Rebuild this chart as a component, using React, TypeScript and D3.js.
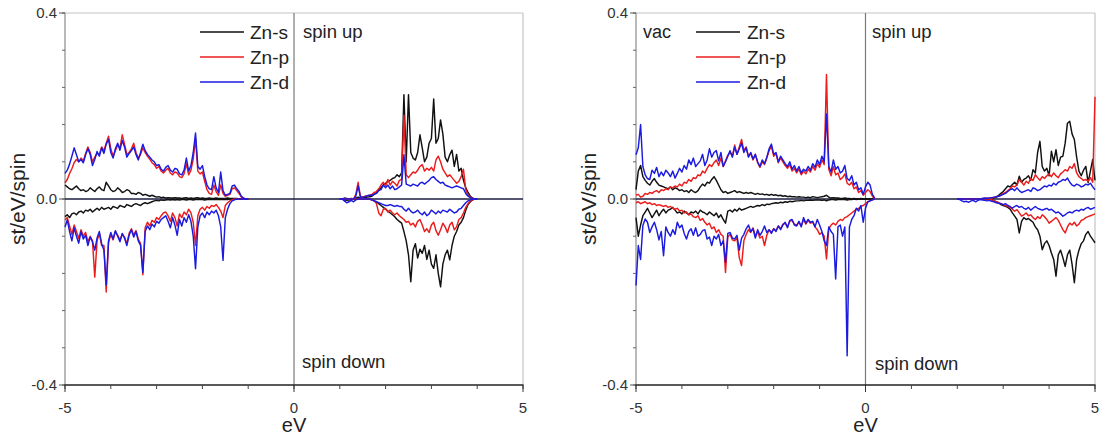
import React from "react";
import * as d3 from "d3";

// Energy grids: each array starts at its start energy (eV) and is sampled every E_STEP eV.
// Values are in 10^-3 states/eV/spin (divided by 1000 when plotted).
const E_STEP = 0.05;

const seriesNames = ["Zn-s", "Zn-p", "Zn-d"];
const seriesColors = ["#111111", "#ec1c1c", "#1a1ae0"];

const xMajorTicks = [-5, 0, 5];
const xTickLabels = ["-5", "0", "5"];
const yMajorTicks = [-0.4, 0, 0.4];
const yTickLabels = ["-0.4", "0.0", "0.4"];

// ---------------- Left panel ----------------
const leftVbStart = -5.0;
const leftCbStart = 1.0;

const leftVbUpS = [30,26,22,20,24,28,22,18,20,16, 18,24,20,16,22,26,20,18,36,28, 20,16,18,24,20,14,16,20,18,12, 12,10,14,12,8,10,8,6,8,6, 4,5,3,4,2,3,2,2,3,2, 2,1,2,3,1,2,1,2,3,1, 2,1,1,2,1,1,2,1,1,1, 1,2,1,1,1,1,0,0,0,0, 0];
const leftVbUpP = [35,42,55,65,78,85,80,88,82,98, 112,100,80,90,98,96,112,104,120,135, 108,92,104,116,110,138,118,96,100,108, 120,100,88,96,110,100,92,86,78,74, 66,70,60,56,62,66,56,52,58,56, 48,46,54,76,52,62,86,130,60,54, 58,38,20,12,10,30,16,8,30,12, 6,8,10,22,24,18,12,4,2,0, 0];
const leftVbUpD = [55,62,75,92,110,95,80,85,78,95, 108,96,72,85,102,92,110,98,118,128, 100,88,108,120,105,126,112,90,98,104, 112,96,84,100,118,104,96,90,84,80, 72,74,64,60,68,72,62,58,66,64, 54,52,62,88,60,72,100,142,70,64, 72,48,30,22,20,48,24,14,58,18, 8,10,12,28,30,22,16,6,2,0, 0];
const leftVbDnS = [-38,-34,-40,-32,-30,-34,-28,-26,-30,-24, -26,-22,-28,-24,-20,-24,-18,-22,-20,-18, -22,-16,-18,-20,-14,-16,-18,-12,-14,-16, -12,-10,-12,-14,-10,-8,-10,-8,-6,-4, -3,-4,-2,-3,-2,-1,-2,-1,-2,-1, -2,-1,-1,-2,-1,-1,-2,-1,-1,-1, -1,-2,-1,-1,-1,-1,-1,-1,-1,-1, -1,-1,0,0,0,0,0,0,0,0, 0];
const leftVbDnP = [-45,-40,-58,-76,-56,-70,-85,-66,-80,-72, -92,-80,-90,-168,-90,-74,-100,-100,-200,-94, -76,-88,-70,-78,-88,-76,-82,-96,-74,-64, -78,-68,-86,-96,-163,-62,-50,-58,-46,-50, -40,-44,-36,-30,-28,-36,-48,-30,-40,-58, -32,-40,-28,-34,-22,-30,-50,-100,-36,-22, -18,-24,-16,-20,-14,-16,-12,-18,-26,-40, -14,-8,-4,-2,0,0,0,0,0,0, 0];
const leftVbDnD = [-60,-45,-70,-90,-62,-80,-95,-70,-86,-78, -100,-82,-92,-110,-84,-70,-96,-110,-185,-90, -72,-86,-68,-80,-92,-74,-84,-100,-78,-66, -82,-70,-90,-100,-158,-70,-58,-66,-54,-60, -48,-52,-44,-40,-36,-48,-62,-40,-56,-78, -44,-58,-40,-50,-34,-48,-80,-150,-60,-36, -30,-40,-28,-34,-26,-30,-24,-36,-60,-132, -40,-22,-10,-4,-2,0,0,0,0,0, 0];

const leftCbUpS = [0,0,2,1,0,1,0,2,4,2, 2,3,4,5,6,10,14,20,24,30, 34,38,40,44,46,52,48,56,224,80, 224,100,88,84,100,138,110,80,90,120, 130,215,120,130,170,140,90,80,95,105, 70,96,60,66,40,24,14,6,2,0, 0];
const leftCbUpP = [0,0,0,0,0,0,0,10,36,6, 4,6,7,8,10,14,16,22,30,36, 28,42,30,38,34,28,40,42,180,52, 46,52,58,56,62,70,74,60,66,62, 68,60,84,92,80,64,56,48,52,46, 40,34,38,48,64,20,8,4,2,0, 0];
const leftCbUpD = [0,0,0,0,0,0,0,6,28,4, 4,5,7,8,8,10,12,18,20,30, 24,30,22,28,20,22,26,30,95,32, 30,28,32,30,28,34,36,32,36,40, 46,48,42,38,34,36,30,28,26,24, 26,28,26,24,22,12,6,3,1,0, 0];
const leftCbDnS = [0,0,-2,-3,-2,-1,0,0,0,0, 0,0,0,0,-2,-4,-6,-10,-14,-18, -22,-26,-30,-34,-38,-44,-48,-52,-70,-90, -120,-178,-110,-96,-127,-108,-117,-100,-130,-110, -140,-149,-120,-160,-189,-140,-120,-110,-131,-100, -80,-70,-56,-50,-40,-24,-12,-6,-2,0, 0];
const leftCbDnP = [0,0,0,-1,0,0,0,0,0,0, 0,0,0,0,-2,-4,-10,-30,-36,-22, -20,-28,-24,-30,-34,-30,-36,-40,-44,-50, -48,-56,-52,-60,-48,-44,-56,-70,-64,-72, -56,-50,-68,-78,-66,-52,-60,-72,-56,-50, -66,-60,-44,-40,-30,-18,-10,-4,-2,0, 0];
const leftCbDnD = [0,0,-4,-8,-6,-3,-6,-2,0,0, 0,0,0,0,-2,-4,-6,-8,-10,-12, -14,-14,-12,-14,-16,-14,-16,-16,-22,-26, -20,-26,-30,-28,-24,-30,-34,-28,-36,-32, -24,-28,-32,-26,-30,-24,-26,-28,-22,-26, -30,-28,-22,-20,-14,-8,-4,-2,0,0, 0];

// ---------------- Right panel (vac) ----------------
const rightVbStart = -5.0;
const rightCbStart = 2.0;

const rightVbUpS = [20,60,72,48,40,34,30,38,44,36, 30,28,26,24,22,26,20,24,22,18, 20,16,18,14,20,16,14,18,26,32, 28,36,34,42,48,40,30,20,14,16, 12,14,16,18,14,16,14,12,14,12, 14,12,10,12,10,11,9,10,8,10, 8,9,7,8,6,7,5,6,5,5, 4,5,4,4,3,4,3,5,4,3, 4,5,6,8,4,2,3,2,2,1, 1,2,1,1,0,1,0,0,1,0, 0,0,0,0,0];
const rightVbUpP = [8,10,4,6,12,10,14,12,16,18, 14,20,18,22,20,26,24,28,26,32, 28,36,34,42,38,46,44,52,50,60, 56,66,74,70,78,84,72,88,70,82, 94,100,92,116,96,112,128,104,112,92, 98,84,96,78,68,80,74,88,104,114, 92,98,78,88,80,72,66,74,60,66, 56,64,52,60,54,64,58,70,62,76, 68,84,74,268,64,50,70,52,56,42, 46,54,34,30,36,22,26,14,18,8, 14,20,16,6,0];
const rightVbUpD = [95,110,160,70,52,44,42,62,55,68, 48,58,50,62,56,48,60,45,55,66, 58,72,64,84,74,88,70,76,82,96, 72,84,108,90,100,104,82,100,70,80, 92,104,90,112,96,108,120,100,110,90, 100,86,96,80,70,84,76,90,108,118, 96,100,80,92,84,76,70,80,64,72, 60,70,56,64,60,70,62,76,68,84, 74,92,80,183,70,58,84,64,70,56, 60,72,44,40,50,30,36,20,24,10, 26,36,30,10,2];
const rightVbDnS = [-40,-80,-56,-36,-28,-20,-30,-40,-32,-24, -36,-28,-22,-30,-24,-22,-18,-24,-30,-28, -32,-26,-30,-34,-28,-30,-26,-32,-24,-28, -30,-34,-28,-32,-36,-30,-40,-34,-44,-52, -26,-24,-28,-22,-26,-20,-24,-22,-20,-18, -16,-18,-16,-14,-15,-12,-14,-11,-12,-10, -9,-8,-9,-7,-8,-6,-7,-5,-6,-5, -4,-4,-3,-4,-3,-3,-2,-3,-2,-2, -2,-3,-2,-4,-2,-1,-1,-2,-1,-1, -1,-1,-2,-1,-1,0,-1,0,0,0, 0,0,0,0,0];
const rightVbDnP = [-8,-6,-10,-8,-6,-10,-8,-12,-10,-14, -12,-14,-16,-14,-18,-16,-20,-22,-20,-26, -24,-30,-28,-34,-32,-38,-40,-36,-46,-42, -50,-56,-52,-64,-60,-72,-66,-76,-80,-158, -82,-76,-88,-90,-84,-126,-143,-90,-76,-66, -72,-62,-80,-70,-84,-80,-100,-78,-66,-72, -64,-68,-58,-64,-54,-52,-60,-48,-46,-54, -56,-50,-58,-44,-54,-46,-52,-50,-60,-66, -76,-72,-80,-129,-64,-56,-52,-56,-48,-44, -46,-40,-38,-34,-30,-26,-22,-20,-16,-14, -10,-6,-4,-2,0];
const rightVbDnD = [-186,-100,-130,-57,-43,-50,-72,-60,-50,-66, -88,-70,-122,-60,-72,-80,-66,-76,-50,-62, -56,-74,-86,-70,-64,-78,-62,-80,-76,-68, -66,-86,-82,-100,-80,-86,-76,-100,-90,-136, -74,-72,-84,-86,-78,-110,-84,-76,-64,-56, -70,-64,-84,-66,-78,-70,-58,-72,-66,-74, -64,-70,-58,-66,-56,-50,-62,-46,-44,-56, -58,-48,-60,-40,-52,-44,-50,-48,-60,-44, -56,-70,-90,-100,-60,-70,-76,-172,-60,-56, -80,-60,-337,-60,-44,-36,-20,-26,-14,-50, -20,-6,-4,-2,0];

const rightCbUpS = [0,0,0,0,0,0,0,0,0,0, 0,0,0,0,0,0,2,4,8,12, 16,22,28,26,31,36,30,49,36,42, 45,50,40,63,56,100,124,70,60,66, 50,103,80,106,72,90,92,120,163,167, 140,128,90,60,50,62,70,35,60,85, 40];
const rightCbUpP = [0,0,0,0,0,0,0,0,0,0, 0,1,1,2,1,2,3,5,6,8, 12,14,18,22,28,26,30,42,36,30, 38,34,44,40,52,46,40,48,44,50, 54,48,56,50,46,54,58,63,60,70, 66,76,56,48,44,40,42,38,46,36, 220];
const rightCbUpD = [0,0,0,0,0,0,0,0,0,0, 0,1,2,1,2,3,4,5,6,8, 10,12,16,20,22,18,24,18,14,16, 18,20,16,24,22,18,20,24,28,26, 30,28,34,30,36,38,42,40,45,36, 30,28,32,30,26,28,32,30,34,26, 20];
const rightCbDnS = [0,0,0,0,0,0,0,0,0,0, 0,0,0,0,0,-2,-4,-6,-8,-12, -14,-16,-18,-22,-30,-37,-44,-73,-48,-40, -44,-42,-46,-50,-60,-66,-80,-109,-96,-90, -100,-116,-130,-166,-120,-110,-126,-145,-120,-110, -140,-180,-130,-110,-96,-90,-76,-70,-80,-87, -94];
const rightCbDnP = [0,0,0,0,0,0,0,0,0,0, 0,0,0,0,0,-2,-4,-6,-8,-10, -12,-14,-16,-18,-22,-26,-23,-30,-37,-34, -30,-36,-34,-40,-44,-38,-42,-34,-38,-44, -52,-48,-44,-40,-46,-56,-66,-73,-60,-52, -56,-50,-58,-54,-46,-44,-40,-38,-36,-34, -32];
const rightCbDnD = [0,-1,-4,-6,-5,-7,-4,-3,-6,-3, -1,-2,-3,-4,-3,-5,-6,-8,-9,-10, -12,-10,-14,-16,-20,-16,-14,-18,-16,-20, -22,-18,-24,-20,-16,-20,-22,-24,-22,-20, -24,-22,-26,-30,-28,-32,-37,-34,-30,-28, -30,-26,-24,-26,-22,-24,-20,-18,-22,-20, -18];

type Seg = { start: number; values: number[] };

const leftSeries: Seg[][] = [
  [ { start: leftVbStart, values: leftVbUpS }, { start: leftVbStart, values: leftVbDnS }, { start: leftCbStart, values: leftCbUpS }, { start: leftCbStart, values: leftCbDnS } ],
  [ { start: leftVbStart, values: leftVbUpP }, { start: leftVbStart, values: leftVbDnP }, { start: leftCbStart, values: leftCbUpP }, { start: leftCbStart, values: leftCbDnP } ],
  [ { start: leftVbStart, values: leftVbUpD }, { start: leftVbStart, values: leftVbDnD }, { start: leftCbStart, values: leftCbUpD }, { start: leftCbStart, values: leftCbDnD } ],
];
const rightSeries: Seg[][] = [
  [ { start: rightVbStart, values: rightVbUpS }, { start: rightVbStart, values: rightVbDnS }, { start: rightCbStart, values: rightCbUpS }, { start: rightCbStart, values: rightCbDnS } ],
  [ { start: rightVbStart, values: rightVbUpP }, { start: rightVbStart, values: rightVbDnP }, { start: rightCbStart, values: rightCbUpP }, { start: rightCbStart, values: rightCbDnP } ],
  [ { start: rightVbStart, values: rightVbUpD }, { start: rightVbStart, values: rightVbDnD }, { start: rightCbStart, values: rightCbUpD }, { start: rightCbStart, values: rightCbDnD } ],
];

const FONT = "'Liberation Sans', Arial, Helvetica, sans-serif";
const TOP = 13;
const BOTTOM = 385;

type PanelProps = {
  x0: number;
  x1: number;
  series: Seg[][];
  legendLineX0: number;
  legendLineX1: number;
  legendTextX: number;
  vacX?: number;
  spinUpX: number;
  spinDownX: number;
  spinDownY: number;
};

function Panel(p: PanelProps) {
  const x = d3.scaleLinear().domain([-5, 5]).range([p.x0, p.x1]);
  const y = d3.scaleLinear().domain([-0.4, 0.4]).range([BOTTOM, TOP]);
  const line = d3
    .line<[number, number]>()
    .x((d) => x(d[0]))
    .y((d) => y(d[1]));
  const toPts = (s: Seg): [number, number][] =>
    s.values.map((v, i) => [s.start + i * E_STEP, v / 1000]);

  const yMinor = d3.range(-0.4, 0.4001, 0.08);
  const xMinor = d3.range(-5, 5.001, 1);
  const legendY = [32, 57, 82];

  return (
    <g>
      {/* frame */}
      <line x1={p.x0} x2={p.x1} y1={TOP} y2={TOP} stroke="#c4c4c4" strokeWidth={1.2} />
      <line x1={p.x1} x2={p.x1} y1={TOP} y2={BOTTOM} stroke="#c4c4c4" strokeWidth={1.2} />
      <line x1={p.x0} x2={p.x0} y1={TOP} y2={BOTTOM} stroke="#8a8a8a" strokeWidth={1.2} />
      <line x1={x(0)} x2={x(0)} y1={TOP} y2={BOTTOM} stroke="#7a7a7a" strokeWidth={1.2} />
      {/* zero baseline */}
      <line x1={p.x0} x2={p.x1} y1={y(0)} y2={y(0)} stroke="#1c1c40" strokeWidth={1.7} />
      {/* data */}
      {p.series.map((segs, si) =>
        segs.map((s, k) => (
          <path
            key={`${si}-${k}`}
            d={line(toPts(s)) || ""}
            fill="none"
            stroke={seriesColors[si]}
            strokeWidth={1.45}
            strokeLinejoin="round"
          />
        ))
      )}
      {/* y ticks */}
      {yMinor.map((t, i) => (
        <line key={`ym${i}`} x1={p.x0 - 3} x2={p.x0} y1={y(t)} y2={y(t)} stroke="#666" strokeWidth={1} />
      ))}
      {yMajorTicks.map((t, i) => (
        <g key={`yM${i}`}>
          <line x1={p.x0 - 6} x2={p.x0} y1={y(t)} y2={y(t)} stroke="#555" strokeWidth={1} />
          <text x={p.x0 - 8} y={y(t) + 5} textAnchor="end" fontSize={15} fill="#333" fontFamily={FONT}>
            {yTickLabels[i]}
          </text>
        </g>
      ))}
      {/* bottom axis */}
      <line x1={p.x0 - 0.5} x2={p.x1 + 0.5} y1={BOTTOM} y2={BOTTOM} stroke="#222" strokeWidth={1.6} />
      {xMinor.map((t, i) => (
        <line key={`xm${i}`} x1={x(t)} x2={x(t)} y1={BOTTOM} y2={BOTTOM + 4} stroke="#444" strokeWidth={1} />
      ))}
      {xMajorTicks.map((t, i) => (
        <g key={`xM${i}`}>
          <line x1={x(t)} x2={x(t)} y1={BOTTOM} y2={BOTTOM + 7} stroke="#333" strokeWidth={1} />
          <text x={x(t)} y={BOTTOM + 28} textAnchor="middle" fontSize={15} fill="#333" fontFamily={FONT}>
            {xTickLabels[i]}
          </text>
        </g>
      ))}
      <text x={x(0)} y={432} textAnchor="middle" fontSize={20} fill="#222" fontFamily={FONT}>
        eV
      </text>
      {/* y title */}
      <text
        transform={`translate(${p.x0 - 40},${y(0)}) rotate(-90)`}
        textAnchor="middle"
        fontSize={21}
        fill="#222"
        fontFamily={FONT}
      >
        st/eV/spin
      </text>
      {/* legend */}
      {seriesNames.map((n, i) => (
        <g key={`lg${i}`}>
          <line x1={p.legendLineX0} x2={p.legendLineX1} y1={legendY[i]} y2={legendY[i]} stroke={seriesColors[i]} strokeWidth={1.6} />
          <text x={p.legendTextX} y={legendY[i] + 7} fontSize={19} fill="#222" fontFamily={FONT}>
            {n}
          </text>
        </g>
      ))}
      {p.vacX !== undefined && (
        <text x={p.vacX} y={38} fontSize={18} fill="#222" fontFamily={FONT}>
          vac
        </text>
      )}
      <text x={p.spinUpX} y={38} fontSize={18.5} fill="#222" fontFamily={FONT}>
        spin up
      </text>
      <text x={p.spinDownX} y={p.spinDownY} fontSize={18.5} fill="#222" fontFamily={FONT}>
        spin down
      </text>
    </g>
  );
}

export default function App() {
  return (
    <svg
      width={1103}
      height={441}
      viewBox="0 0 1103 441"
      style={{ position: "absolute", left: 0, top: 0, background: "#fff" }}
    >
      <rect x={0} y={0} width={1103} height={441} fill="#fff" />
      <Panel
        x0={65}
        x1={523}
        series={leftSeries}
        legendLineX0={200}
        legendLineX1={244}
        legendTextX={250}
        spinUpX={303}
        spinDownX={302}
        spinDownY={368}
      />
      <Panel
        x0={636}
        x1={1095}
        series={rightSeries}
        legendLineX0={696}
        legendLineX1={740}
        legendTextX={747}
        vacX={643}
        spinUpX={872}
        spinDownX={875}
        spinDownY={370}
      />
    </svg>
  );
}
